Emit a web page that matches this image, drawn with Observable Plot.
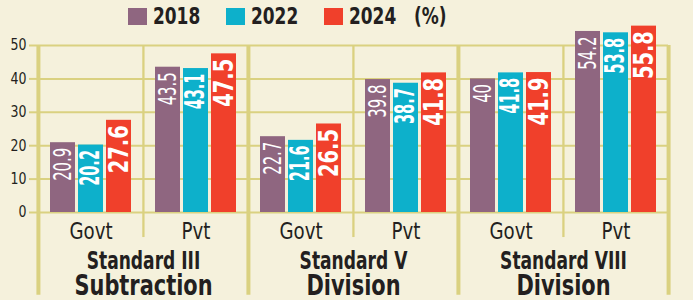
<!DOCTYPE html>
<html><head><meta charset="utf-8">
<script src="https://cdn.jsdelivr.net/npm/d3@7"></script>
<script src="https://cdn.jsdelivr.net/npm/@observablehq/plot@0.6"></script>
<style>
body{margin:0;background:#f5f1dc;}
#wrap{width:693px;height:300px;background:#f5f1dc;overflow:hidden;font-family:"DejaVu Sans Condensed","Liberation Sans Narrow",sans-serif;color:#231f20;}
#legend{height:25px;box-sizing:border-box;padding:8px 0 0 128px;display:flex;align-items:center;}
.sw{width:19px;height:17px;margin-right:6px;flex:none;}
.lt{font-size:23px;font-weight:bold;line-height:17px;flex:none;transform-origin:left center;}
</style></head><body><div id="wrap"><div id="legend"></div><div id="chart"></div></div>
<script>
const standards = ["Standard III", "Standard V", "Standard VIII"];
const skills = ["Subtraction", "Division", "Division"];
const schoolTypes = ["Govt", "Pvt"];
const years = ["2018", "2022", "2024"];
// order: III Govt, III Pvt, V Govt, V Pvt, VIII Govt, VIII Pvt
const values2018 = [20.9, 43.5, 22.7, 39.8, 40, 54.2];
const values2022 = [20.2, 43.1, 21.6, 38.7, 41.8, 53.8];
const values2024 = [27.6, 47.5, 26.5, 41.8, 41.9, 55.8];
const yTicks = [0, 10, 20, 30, 40, 50];
const unitLabel = "(%)";

const series = [values2018, values2022, values2024];
const colors = ["#8f6680", "#0db0cb", "#f0402b"];
const gridColor = "#dad180";
const ink = "#231f20";
const font = '"DejaVu Sans Condensed","Liberation Sans Narrow",sans-serif';

// legend
const legend = document.getElementById("legend");
const legendTexts = [];
years.forEach((yr, i) => {
  const sw = document.createElement("div");
  sw.className = "sw"; sw.style.background = colors[i];
  const t = document.createElement("div");
  t.className = "lt"; t.textContent = yr;
  legend.append(sw, t);
  legendTexts.push([t, i < years.length - 1 ? 26 : 17]);
});
const unit = document.createElement("div");
unit.className = "lt"; unit.textContent = unitLabel;
legend.append(unit);
legendTexts.push([unit, 0]);
legendTexts.forEach(([el, gap]) => {
  const k = 0.82;
  const w = el.getBoundingClientRect().width;
  el.style.transform = `scaleX(${k})`;
  el.style.marginRight = (gap - (1 - k) * w) + "px";
});

// data table
const data = [];
const keys = [];
standards.forEach((s, si) => schoolTypes.forEach((t, ti) => {
  const key = s + "|" + t;
  keys.push(key);
  years.forEach((yr, yi) => data.push({standard: s, type: t, key, year: yr, value: series[yi][si * 2 + ti]}));
}));

const W = 693, H = 275, mL = 37, mR = 25, mT = 20, mB = 88;
const fw = (W - mL - mR) / keys.length;
// each text group gets a distinct font size, used below to condense it
const labelStyle = [
  {fontSize: 24, fontWeight: "normal", squeeze: 0.69},
  {fontSize: 26, fontWeight: "bold", squeeze: 0.62},
  {fontSize: 27, fontWeight: "bold", squeeze: 0.8}
];
const axisYSize = 15, axisFxSize = 23.5, standardSize = 25, skillSize = 28;

const chart = Plot.plot({
  width: W, height: H,
  marginLeft: mL, marginRight: mR, marginTop: mT, marginBottom: mB,
  style: {background: "transparent", fontFamily: font, overflow: "visible", color: ink},
  fx: {domain: keys, padding: 0, label: null},
  x: {domain: years, paddingInner: 0.11, paddingOuter: 0.43, axis: null},
  y: {domain: [0, 50]},
  marks: [
    Plot.ruleY(yTicks, {stroke: gridColor, strokeWidth: 2}),
    Plot.axisY(yTicks, {tickSize: 9, tickPadding: 3, stroke: gridColor, strokeWidth: 2, fill: ink, fontSize: axisYSize, label: null}),
    Plot.ruleX(keys.filter(k => k.endsWith("|Pvt")), {fx: d => d, x: null, y1: -7.5, y2: 50, dx: -fw / 2, stroke: gridColor, strokeWidth: 2.3}),
    Plot.ruleX(keys.filter(k => k.endsWith("|Govt")), {fx: d => d, x: null, y1: -24.8, y2: 50, dx: -fw / 2, stroke: gridColor, strokeWidth: 4}),
    Plot.ruleX(keys.slice(-1), {fx: d => d, x: null, y1: -24.8, y2: 50, dx: fw / 2, stroke: gridColor, strokeWidth: 4}),
    Plot.barY(data, {fx: "key", x: "year", y: "value", fill: d => colors[years.indexOf(d.year)]}),
    ...years.map((yr, i) => Plot.text(data.filter(d => d.year === yr), {
      fx: "key", x: "year", y: "value", text: d => String(d.value),
      rotate: -90, textAnchor: "end", lineAnchor: "middle", dy: 5,
      fill: "white", fontSize: labelStyle[i].fontSize, fontWeight: labelStyle[i].fontWeight
    })),
    Plot.axisFx({anchor: "bottom", tickSize: 0, tickPadding: 10, fontSize: axisFxSize, fill: ink, label: null, tickFormat: k => k.split("|")[1]}),
    Plot.text(standards, {fx: s => s + "|Govt", frameAnchor: "bottom-right", textAnchor: "middle", lineAnchor: "bottom", dy: 56, fontSize: standardSize, fontWeight: "bold", fill: ink}),
    Plot.text(skills, {fx: (s, i) => standards[i] + "|Govt", frameAnchor: "bottom-right", textAnchor: "middle", lineAnchor: "bottom", dy: 82, fontSize: skillSize, fontWeight: "bold", fill: ink})
  ]
});
document.getElementById("chart").append(chart);

// condense text to mimic the narrow newspaper typeface
function squeeze(size, k) {
  chart.querySelectorAll(`g[font-size="${size}"] text`).forEach(t => {
    const len = t.getComputedTextLength();
    t.setAttribute("textLength", len * k);
    t.setAttribute("lengthAdjust", "spacingAndGlyphs");
  });
}
labelStyle.forEach(s => squeeze(s.fontSize, s.squeeze));
squeeze(axisYSize, 0.93);
squeeze(axisFxSize, 0.86);
squeeze(standardSize, 0.76);
squeeze(skillSize, 0.83);
</script></body></html>
